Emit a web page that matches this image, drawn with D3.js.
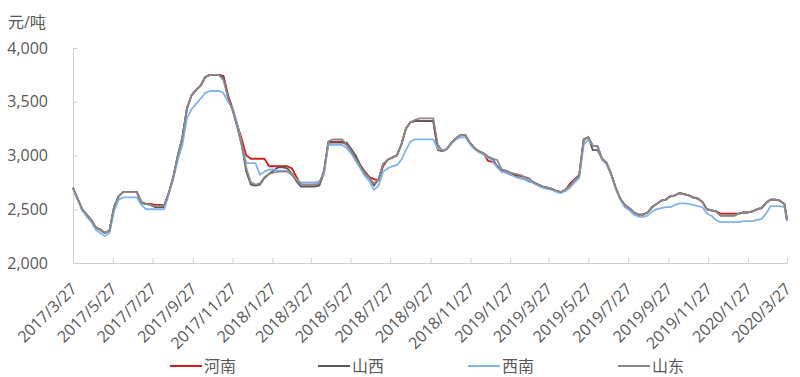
<!DOCTYPE html>
<html>
<head>
<meta charset="utf-8">
<script src="https://cdn.jsdelivr.net/npm/d3@7"></script>
<style>
  body { margin: 0; background: #fff; }
  svg text { font-family: "Open Sans", "Noto Sans CJK SC", sans-serif; fill: #595959; }
</style>
</head>
<body>
<svg id="draw" width="800" height="377"></svg>
<script>
// weekly prices from 2017/3/27, last point 2020/3/27
let henan = [
  2700, 2600, 2500, 2450, 2400, 2330, 2310, 2280, 2300, 2520,
  2620, 2660, 2660, 2660, 2660, 2560, 2550, 2550, 2540, 2540,
  2540, 2650, 2800, 3000, 3170, 3440, 3560, 3610, 3650, 3730,
  3750, 3750, 3750, 3740, 3560, 3440, 3290, 3150, 3000, 2970,
  2970, 2970, 2970, 2900, 2900, 2900, 2900, 2900, 2880, 2800,
  2730, 2730, 2730, 2730, 2730, 2850, 3130, 3130, 3130, 3130,
  3100, 3060, 2980, 2910, 2850, 2800, 2780, 2770, 2900, 2960,
  2980, 3000, 3100, 3250, 3310, 3320, 3320, 3320, 3320, 3320,
  3050, 3040, 3060, 3120, 3160, 3190, 3190, 3120, 3070, 3040,
  3020, 2950, 2940, 2900, 2850, 2840, 2820, 2820, 2810, 2800,
  2780, 2750, 2730, 2710, 2700, 2690, 2670, 2660, 2680, 2740,
  2780, 2820, 3150, 3170, 3090, 3090, 2970, 2930, 2830, 2700,
  2600, 2540, 2510, 2470, 2450, 2450, 2470, 2520, 2550, 2580,
  2590, 2620, 2630, 2650, 2640, 2630, 2610, 2600, 2570, 2500,
  2490, 2480, 2460, 2460, 2460, 2460, 2460, 2470, 2470, 2480,
  2500, 2510, 2560, 2590, 2590, 2580, 2550, 2400
];
let shanxi = [
  2700, 2600, 2500, 2450, 2400, 2330, 2310, 2280, 2300, 2520,
  2620, 2660, 2660, 2660, 2660, 2560, 2550, 2540, 2520, 2520,
  2520, 2650, 2800, 3000, 3170, 3440, 3560, 3610, 3650, 3730,
  3750, 3750, 3750, 3730, 3540, 3420, 3270, 3100, 2850, 2730,
  2720, 2730, 2790, 2830, 2860, 2890, 2890, 2880, 2830, 2760,
  2710, 2710, 2710, 2710, 2720, 2830, 3120, 3120, 3120, 3120,
  3120, 3060, 3000, 2910, 2840, 2790, 2720, 2780, 2920, 2960,
  2980, 3000, 3100, 3250, 3310, 3320, 3320, 3320, 3320, 3320,
  3060, 3040, 3060, 3120, 3160, 3190, 3190, 3120, 3070, 3040,
  3020, 2990, 2970, 2900, 2860, 2850, 2830, 2810, 2790, 2780,
  2760, 2750, 2730, 2710, 2700, 2690, 2670, 2660, 2680, 2720,
  2770, 2810, 3150, 3170, 3050, 3050, 2970, 2930, 2830, 2700,
  2600, 2540, 2510, 2470, 2450, 2450, 2470, 2520, 2550, 2580,
  2590, 2620, 2630, 2650, 2640, 2630, 2610, 2600, 2570, 2500,
  2490, 2480, 2440, 2440, 2440, 2440, 2460, 2470, 2470, 2480,
  2500, 2510, 2560, 2590, 2590, 2580, 2550, 2400
];
let xinan = [
  2690, 2590, 2490, 2430, 2380, 2310, 2280, 2250, 2280, 2480,
  2590, 2610, 2610, 2610, 2610, 2540, 2500, 2500, 2500, 2500,
  2500, 2640, 2780, 2960, 3100, 3350, 3430, 3480, 3530, 3580,
  3600, 3600, 3600, 3580, 3500, 3440, 3300, 3100, 2930, 2930,
  2930, 2820, 2850, 2870, 2870, 2860, 2860, 2860, 2820, 2780,
  2750, 2750, 2750, 2750, 2760, 2820, 3100, 3100, 3100, 3100,
  3070, 3020, 2950, 2880, 2810, 2760, 2680, 2720, 2850, 2880,
  2900, 2910, 2960, 3050, 3130, 3150, 3150, 3150, 3150, 3150,
  3060, 3050, 3060, 3110, 3150, 3170, 3170, 3110, 3060, 3030,
  3010, 2980, 2950, 2890, 2850, 2840, 2820, 2800, 2790, 2780,
  2770, 2740, 2720, 2700, 2690, 2680, 2660, 2650, 2670, 2700,
  2750, 2790, 3100, 3150, 3090, 3080, 2960, 2920, 2820, 2690,
  2590, 2520, 2490, 2450, 2430, 2430, 2440, 2480, 2500, 2510,
  2520, 2520, 2540, 2555, 2555, 2550, 2540, 2530, 2520, 2460,
  2440, 2400, 2380, 2380, 2380, 2380, 2380, 2390, 2390, 2390,
  2400, 2410, 2460, 2530, 2530, 2530, 2520, 2390
];
let shandong = [
  2700, 2600, 2500, 2450, 2400, 2330, 2310, 2280, 2300, 2520,
  2620, 2660, 2660, 2660, 2660, 2570, 2550, 2540, 2530, 2530,
  2540, 2650, 2800, 3000, 3170, 3440, 3560, 3610, 3650, 3730,
  3750, 3750, 3750, 3700, 3540, 3420, 3270, 3100, 2880, 2750,
  2730, 2740, 2800, 2830, 2840, 2850, 2850, 2850, 2820, 2770,
  2730, 2730, 2730, 2730, 2740, 2850, 3130, 3150, 3150, 3150,
  3100, 3040, 2970, 2900, 2830, 2790, 2740, 2780, 2920, 2960,
  2980, 3000, 3100, 3250, 3310, 3330, 3345, 3345, 3345, 3345,
  3100, 3040, 3060, 3120, 3160, 3190, 3190, 3120, 3070, 3040,
  3020, 2990, 2970, 2960, 2870, 2860, 2840, 2830, 2820, 2800,
  2790, 2750, 2730, 2710, 2700, 2690, 2670, 2660, 2680, 2720,
  2770, 2810, 3150, 3170, 3090, 3090, 2970, 2930, 2830, 2700,
  2600, 2540, 2510, 2470, 2450, 2450, 2470, 2520, 2550, 2580,
  2590, 2620, 2630, 2650, 2640, 2630, 2610, 2600, 2570, 2500,
  2490, 2480, 2440, 2440, 2440, 2440, 2460, 2470, 2470, 2480,
  2500, 2510, 2560, 2590, 2590, 2580, 2550, 2400
];

let seriesNames = ["河南", "山西", "西南", "山东"];
let seriesColors = ["#D8181E", "#595959", "#80B4EA", "#8A8A8A"];
let tickLabels = ["2017/3/27", "2017/5/27", "2017/7/27", "2017/9/27", "2017/11/27",
  "2018/1/27", "2018/3/27", "2018/5/27", "2018/7/27", "2018/9/27", "2018/11/27",
  "2019/1/27", "2019/3/27", "2019/5/27", "2019/7/27", "2019/9/27", "2019/11/27",
  "2020/1/27", "2020/3/27"];
let yTicks = [2000, 2500, 3000, 3500, 4000];

let parse = d3.timeParse("%Y/%m/%d");
let startDate = parse("2017/3/27"), endDate = parse("2020/3/27");
let dates = d3.timeDay.range(startDate, endDate, 7);
dates.push(endDate);

let svg = d3.select("#draw");
let x = d3.scaleTime().domain([startDate, endDate]).range([73, 787]);
let y = d3.scaleLinear().domain([2000, 4000]).range([263, 48]);

// axes
let xAxis = svg.append("g")
    .attr("transform", "translate(0,263)")
    .call(d3.axisBottom(x).tickValues(tickLabels.map(parse)).tickSize(-5).tickFormat(""));
xAxis.selectAll("path, line").attr("stroke", "#d0d0d0");

let yAxis = svg.append("g")
    .attr("transform", "translate(73,0)")
    .call(d3.axisLeft(y).tickValues(yTicks).tickSize(-4).tickFormat(""));
yAxis.selectAll("path, line").attr("stroke", "#d0d0d0");

svg.selectAll(".ylab")
    .data(yTicks)
    .enter()
    .append("text")
    .attr("x", 48)
    .attr("y", d => y(d))
    .attr("dy", "0.35em")
    .attr("text-anchor", "end")
    .attr("font-size", 16)
    .text(d3.format(","));

svg.append("text")
    .attr("x", 8)
    .attr("y", 28)
    .attr("font-size", 16)
    .text("元/吨");

svg.selectAll(".xlab")
    .data(tickLabels)
    .enter()
    .append("text")
    .attr("transform", d => "translate(" + (x(parse(d)) + 1) + ",286) rotate(-45)")
    .attr("dy", "0.35em")
    .attr("text-anchor", "end")
    .attr("font-size", 16)
    .text(d => d);

// lines
let line = d3.line()
    .x((d, i) => x(dates[i]))
    .y(d => y(d));

[henan, shanxi, xinan, shandong].forEach((s, i) => {
    svg.append("path")
        .attr("d", line(s))
        .attr("fill", "none")
        .attr("stroke", seriesColors[i])
        .attr("stroke-width", 1.8)
        .attr("stroke-linejoin", "round");
});

// legend
let legendX = [170, 318, 468, 618];
seriesNames.forEach((n, i) => {
    svg.append("line")
        .attr("x1", legendX[i]).attr("x2", legendX[i] + 32)
        .attr("y1", 366).attr("y2", 366)
        .attr("stroke", seriesColors[i])
        .attr("stroke-width", 2);
    svg.append("text")
        .attr("x", legendX[i] + 34)
        .attr("y", 366)
        .attr("dy", "0.35em")
        .attr("font-size", 16)
        .text(n);
});
</script>
</body>
</html>
